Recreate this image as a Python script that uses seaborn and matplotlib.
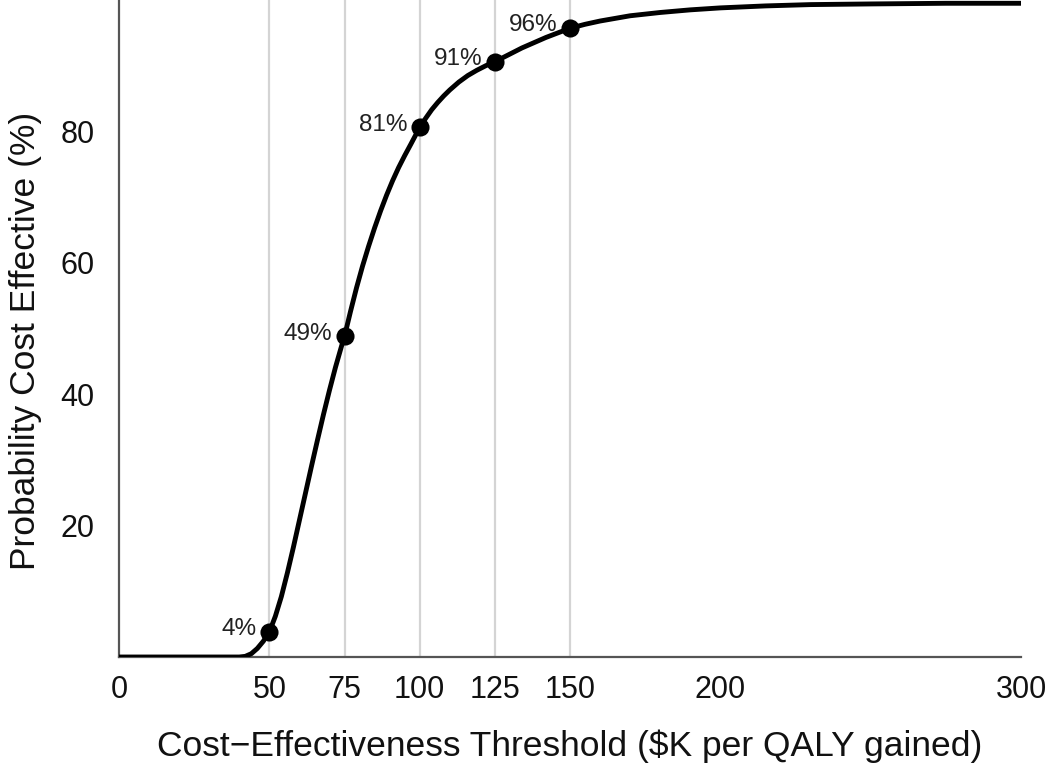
import matplotlib
matplotlib.use("Agg")
import matplotlib.pyplot as plt
import seaborn as sns
import pandas as pd

# ---- data ----
curve_x = [0, 40, 42, 44, 46, 48, 50, 52, 54, 56, 58, 60, 62, 64, 66, 68, 70,
           72, 74, 75, 77, 79, 81, 83, 85, 87, 89, 91, 93, 95, 97, 100, 102,
           104, 106, 108, 110, 113, 116, 119, 122, 125, 128, 131, 134, 138,
           142, 146, 150, 155, 160, 170, 180, 190, 200, 215, 230, 250, 275, 300]
curve_y = [0, 0, 0.1, 0.5, 1.3, 2.4, 3.8, 6.2, 9.2, 12.8, 16.7, 20.8, 24.9,
           29.0, 33.0, 36.9, 40.6, 44.1, 47.3, 48.8, 52.6, 56.2, 59.5, 62.5,
           65.3, 67.9, 70.3, 72.5, 74.5, 76.3, 78.0, 80.6, 82.0, 83.3, 84.4,
           85.4, 86.3, 87.5, 88.5, 89.3, 90.0, 90.6, 91.3, 92.0, 92.7, 93.5,
           94.3, 95.0, 95.7, 96.3, 96.8, 97.6, 98.1, 98.5, 98.8, 99.1, 99.3,
           99.4, 99.5, 99.5]
point_x = [50, 75, 100, 125, 150]
point_y = [3.8, 48.8, 80.6, 90.6, 95.7]
point_labels = ["4%", "49%", "81%", "91%", "96%"]
grid_x = [50, 75, 100, 125, 150]
x_ticks = [0, 50, 75, 100, 125, 150, 200, 300]
y_ticks = [20, 40, 60, 80]
x_label = "Cost\u2212Effectiveness Threshold ($K per QALY gained)"
y_label = "Probability Cost Effective (%)"

curve = pd.DataFrame({"x": curve_x, "y": curve_y})
points = pd.DataFrame({"x": point_x, "y": point_y, "label": point_labels})

sns.set_theme(style="white")
plt.rcParams["font.family"] = ["Liberation Sans", "DejaVu Sans"]

fig = plt.figure(figsize=(10.5, 7.7), dpi=100)
ax = fig.add_axes([119 / 1050, 1 - 657 / 770, (1021 - 119) / 1050, 657 / 770])

for g in grid_x:
    ax.axvline(g, color="#d4d4d4", lw=1.6, zorder=0)

sns.lineplot(data=curve, x="x", y="y", ax=ax, color="black", lw=3.5,
             zorder=3, sort=False)
sns.scatterplot(data=points, x="x", y="y", ax=ax, color="black", s=170,
                edgecolor="black", linewidth=0, zorder=4)

for _, r in points.iterrows():
    ax.annotate(r["label"], (r["x"], r["y"]), xytext=(-9, 2),
                textcoords="offset points", ha="right", va="center",
                fontsize=17.5, color="#222222")

ax.set_xlim(0, 300)
ax.set_ylim(0, 100)
ax.set_xticks(x_ticks)
ax.set_yticks(y_ticks)
ax.set_xticklabels([str(t) for t in x_ticks])
ax.set_yticklabels([str(t) for t in y_ticks])

ax.spines["top"].set_visible(False)
ax.spines["right"].set_visible(False)
for s in ("left", "bottom"):
    ax.spines[s].set_color("#555555")
    ax.spines[s].set_linewidth(1.6)

ax.tick_params(axis="both", which="major", direction="out", length=5,
               width=1.2, color="#666666", labelsize=22, labelcolor="#111111")
ax.tick_params(axis="x", pad=8)
ax.tick_params(axis="y", pad=12.5)

ax.set_xlabel(x_label, fontsize=25.5, color="#111111", labelpad=17.5)
ax.set_ylabel(y_label, fontsize=25.5, color="#111111")
ax.yaxis.set_label_coords(-0.0854, 0.481)

fig.savefig("out.png", dpi=100)
